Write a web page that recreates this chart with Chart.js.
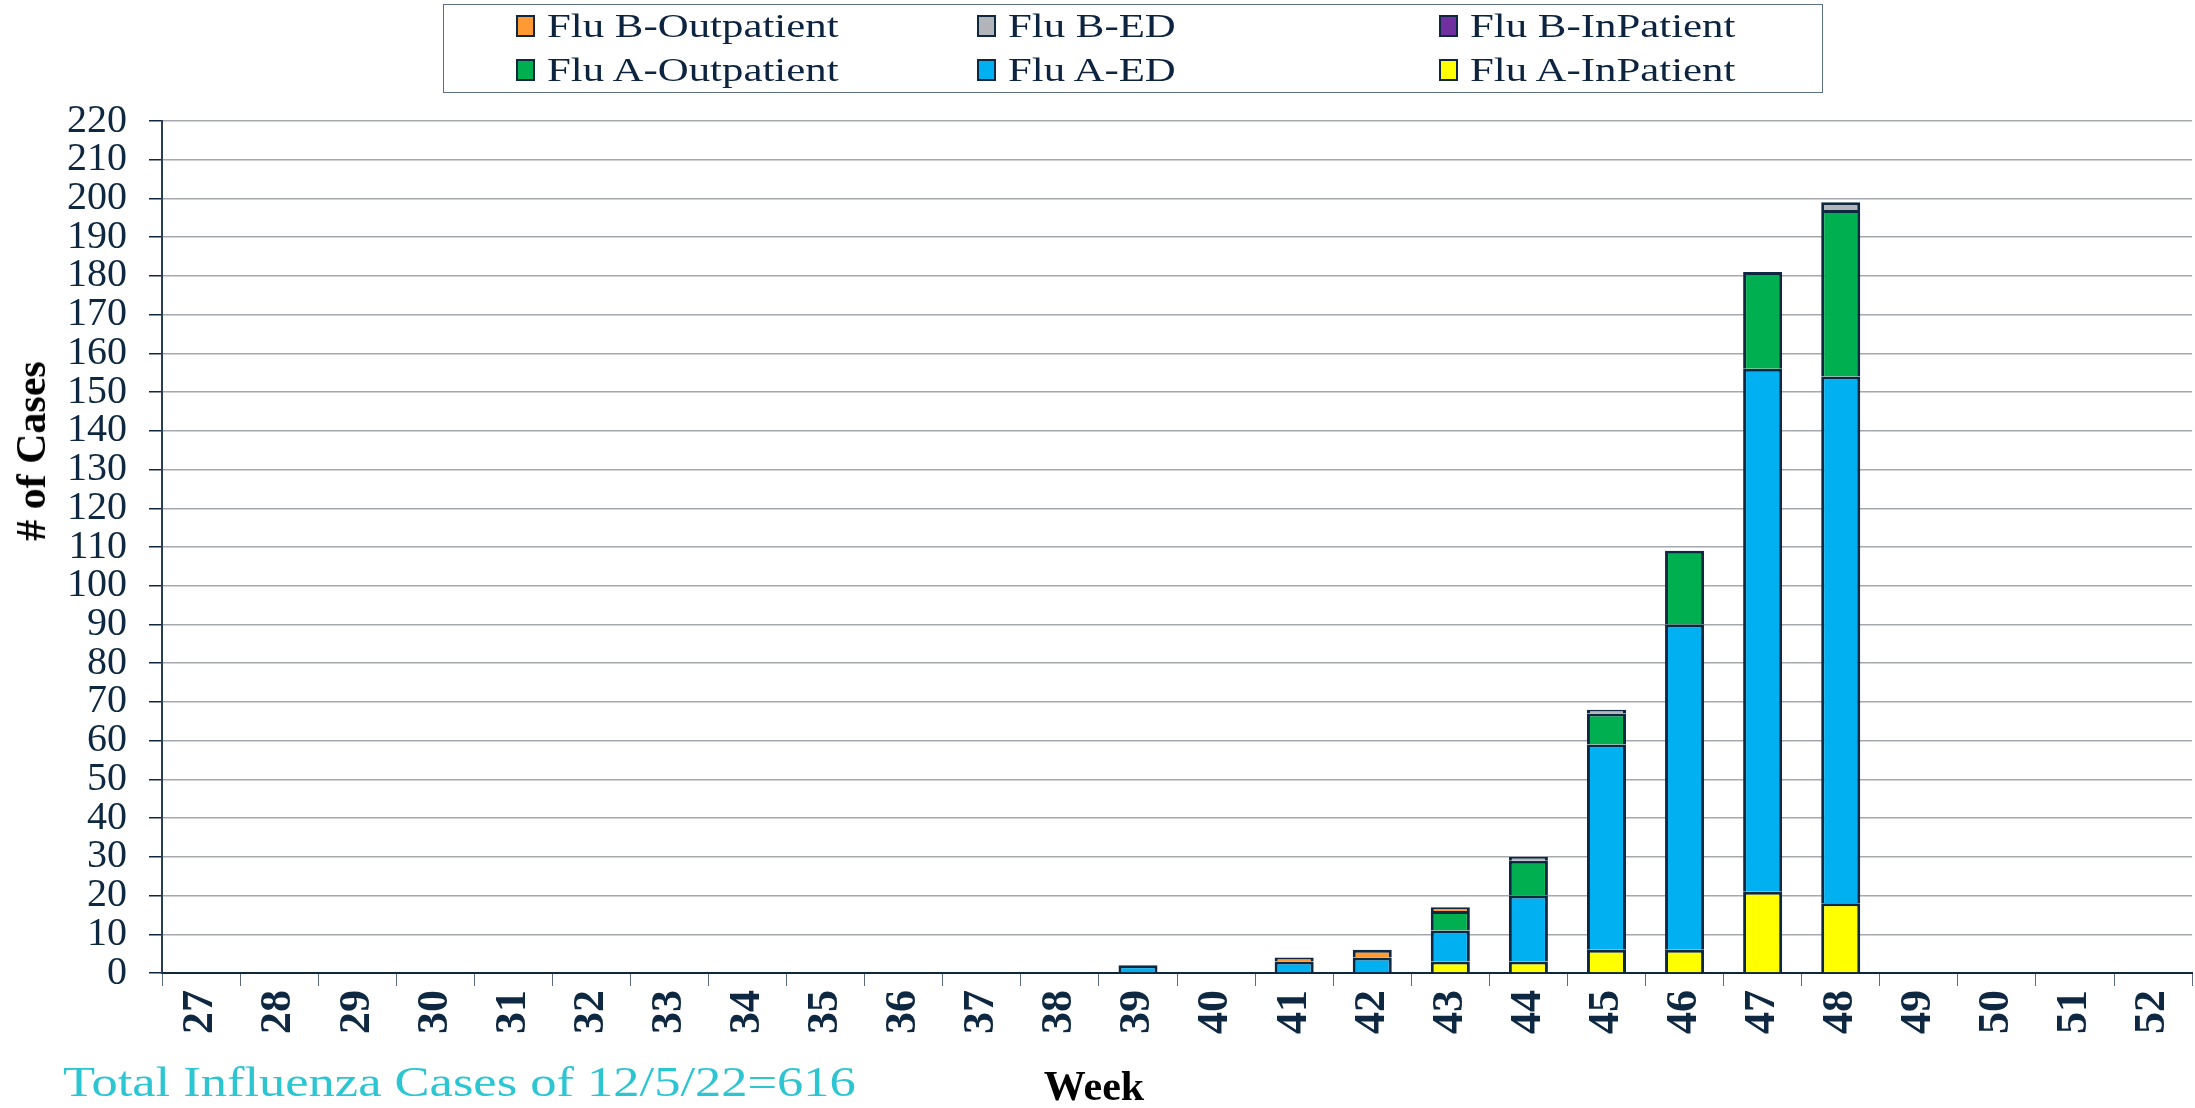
<!DOCTYPE html>
<html>
<head>
<meta charset="utf-8">
<script src="https://cdn.jsdelivr.net/npm/chart.js@4"></script>
<style>
  html, body { margin: 0; padding: 0; background: #fff; }
  #wrap { position: relative; width: 2195px; height: 1108px; overflow: hidden; }
  #flu { position: absolute; left: 0; top: 0; }
  #legend {
    position: absolute; left: 443px; top: 4px; width: 1380px; height: 89px;
    border: 1.5px solid #5d6f85; box-sizing: border-box;
    font-family: 'Liberation Serif', serif; font-size: 34px; color: #0d2440;
  }
  .item { position: absolute; display: flex; align-items: center; white-space: nowrap; }
  .swatch { width: 19px; height: 22px; border: 2px solid #0e2841; margin-right: 12px; box-sizing: border-box; flex: none; }
  .txt { display: inline-block; transform: scaleX(1.26); transform-origin: left center; }
  #note {
    position: absolute; left: 63px; top: 1058px;
    font-family: 'Liberation Serif', serif; font-size: 42px; color: #2cc6d3; white-space: nowrap;
    transform: scaleX(1.25); transform-origin: left center;
  }
  #ytitle {
    position: absolute; left: 31px; top: 451px; white-space: nowrap;
    font-family: 'Liberation Serif', serif; font-size: 42px; font-weight: bold; color: #000;
    transform: translate(-50%, -50%) rotate(-90deg);
  }
  #xtitle {
    position: absolute; left: 1094px; top: 1086px; white-space: nowrap;
    font-family: 'Liberation Serif', serif; font-size: 42px; font-weight: bold; color: #000;
    transform: translate(-50%, -50%);
  }
</style>
</head>
<body>
<div id="wrap">
  <canvas id="flu" width="2210" height="1108"></canvas>
  <div id="legend"></div>
  <div id="ytitle"># of Cases</div>
  <div id="xtitle">Week</div>
  <div id="note">Total Influenza Cases of 12/5/22=616</div>
</div>
<script>
const weeks = ['27','28','29','30','31','32','33','34','35','36','37','38','39',
  '40','41','42','43','44','45','46','47','48','49','50','51','52']

// cases per week, weeks 27..52
const fluAInPatient   = [0,0,0,0,0,0,0,0,0,0,0,0,0, 0,0,0,3,3,6,6,21,18,0,0,0,0]
const fluAED          = [0,0,0,0,0,0,0,0,0,0,0,0,2, 0,3,4,8,17,53,84,135,136,0,0,0,0]
const fluAOutpatient  = [0,0,0,0,0,0,0,0,0,0,0,0,0, 0,0,0,5,9,8,19,25,43,0,0,0,0]
const fluBInPatient   = [0,0,0,0,0,0,0,0,0,0,0,0,0, 0,0,0,0,0,0,0,0,0,0,0,0,0]
const fluBED          = [0,0,0,0,0,0,0,0,0,0,0,0,0, 0,0,0,0,1,1,0,0,2,0,0,0,0]
const fluBOutpatient  = [0,0,0,0,0,0,0,0,0,0,0,0,0, 0,1,2,1,0,0,0,0,0,0,0,0,0]

const navy = '#0e2841'
const serif = "'Liberation Serif', serif"

// bottom of stack first
const series = [
  { label: 'Flu A-InPatient', data: fluAInPatient, color: '#ffff00' },
  { label: 'Flu A-ED', data: fluAED, color: '#00b0f0' },
  { label: 'Flu A-Outpatient', data: fluAOutpatient, color: '#00b050' },
  { label: 'Flu B-InPatient', data: fluBInPatient, color: '#7030a0' },
  { label: 'Flu B-ED', data: fluBED, color: '#b1b5b9' },
  { label: 'Flu B-Outpatient', data: fluBOutpatient, color: '#ff9933' }
]

const chart = new Chart(document.getElementById('flu'), {
  type: 'bar',
  data: {
    labels: weeks,
    datasets: series.map(s => ({
      label: s.label,
      data: s.data.map(v => v || null),
      backgroundColor: s.color,
      borderColor: navy,
      borderWidth: 3,
      categoryPercentage: 1,
      barPercentage: 0.5
    }))
  },
  options: {
    responsive: false,
    animation: false,
    layout: { padding: { top: 121, left: 0, right: 8, bottom: 0 } },
    plugins: {
      legend: { display: false },
      tooltip: { enabled: false }
    },
    scales: {
      x: {
        stacked: true,
        afterFit: s => { s.height = 135 },
        grid: { drawOnChartArea: false, drawTicks: true, tickLength: 13, tickColor: '#5b6b80', offset: true },
        border: { color: navy, width: 2 },
        ticks: {
          color: navy, maxRotation: 90, minRotation: 90, padding: 4, autoSkip: false,
          font: { family: serif, size: 44, weight: 'bold' }
        }
      },
      y: {
        stacked: true, min: 0, max: 220,
        afterFit: s => { s.width = 162 },
        grid: { color: '#a6a8b0', lineWidth: 1.5, tickLength: 13, tickColor: navy },
        border: { color: '#2a3d55', width: 2 },
        ticks: {
          stepSize: 10, color: navy, padding: 22, autoSkip: false,
          font: { family: serif, size: 40, lineHeight: 1 }
        }
      }
    }
  }
})

// legend laid out in the same 3x2 grid as the original
const legendOrder = ['Flu B-Outpatient', 'Flu B-ED', 'Flu B-InPatient',
  'Flu A-Outpatient', 'Flu A-ED', 'Flu A-InPatient']
const colX = [72, 533, 995]
const rowY = [21, 65]
const legend = document.getElementById('legend')
legendOrder.forEach((name, i) => {
  const s = series.find(d => d.label === name)
  const el = document.createElement('div')
  el.className = 'item'
  el.style.left = colX[i % 3] + 'px'
  el.style.top = (rowY[Math.floor(i / 3)] - 22) + 'px'
  el.style.height = '44px'
  el.innerHTML = '<span class="swatch" style="background:' + s.color + '"></span><span class="txt">' + name + '</span>'
  legend.appendChild(el)
})
</script>
</body>
</html>
